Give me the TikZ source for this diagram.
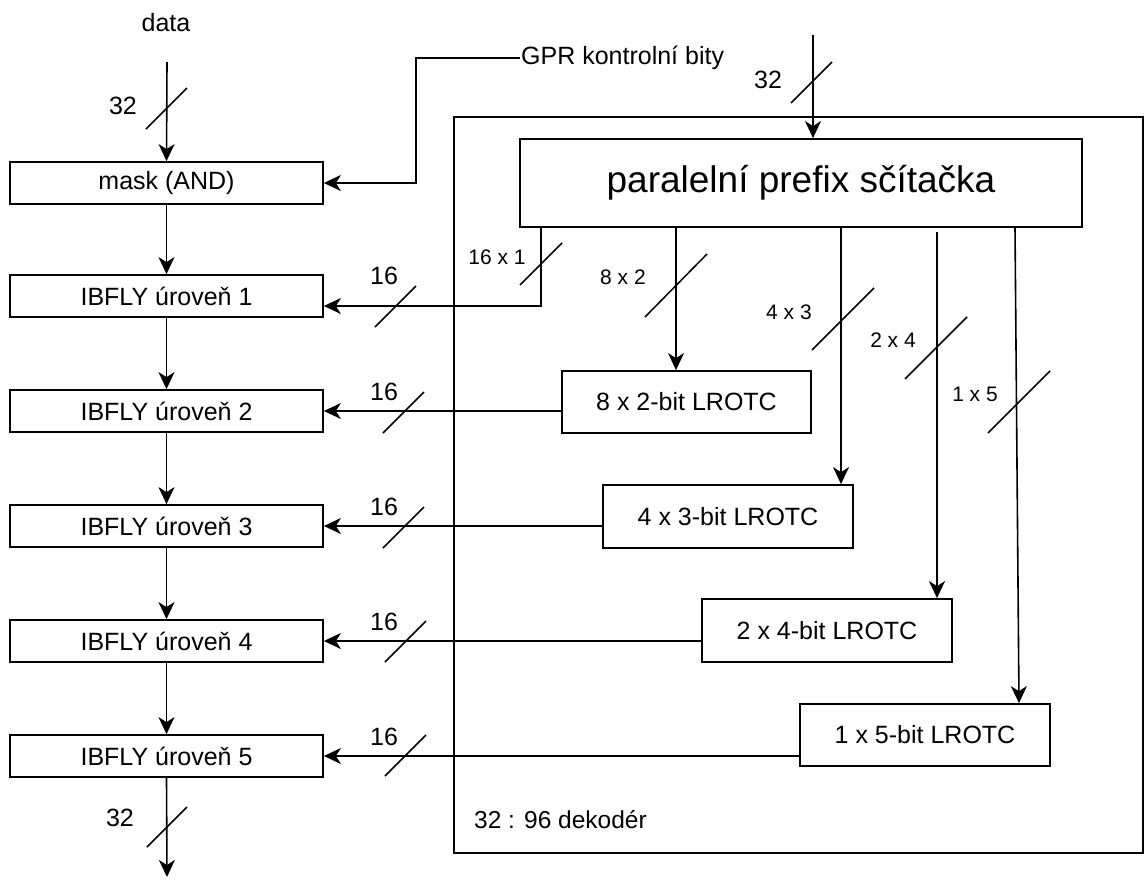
\documentclass[tikz,border=0pt]{standalone}
\usepackage{fontspec}
\setmainfont{Liberation Sans}
\usetikzlibrary{arrows.meta}
\tikzset{
  blk/.style={draw, line width=1.8pt, inner sep=0pt, font=\fontsize{25}{29}\selectfont},
  conn/.style={line width=1.6pt, -{Stealth[length=17pt,width=16pt,inset=5pt]}},
  wire/.style={line width=1.6pt},
  tick/.style={line width=1.5pt},
  lab/.style={inner sep=0pt, font=\fontsize{25}{29}\selectfont},
  slab/.style={inner sep=0pt, font=\fontsize{21}{25}\selectfont},
}
\begin{document}
\begin{tikzpicture}[x=1pt,y=-1pt]
\useasboundingbox (0,0) rectangle (1147,879);
% decoder frame
\node[blk, minimum width=689pt, minimum height=736pt] (dec) at (798.5,485) {};
\node[lab, anchor=west, font=\fontsize{24.5}{28}\selectfont] (declab) at (474,820) {32 : 96 dekodér};
% left chain
\node[blk, minimum width=313pt, minimum height=42pt] (mask) at (166.5,183) {mask (AND)};
\node[blk, minimum width=313pt, minimum height=42pt] (ib1) at (166.5,296) {IBFLY úroveň 1};
\node[blk, minimum width=313pt, minimum height=42pt] (ib2) at (166.5,411) {IBFLY úroveň 2};
\node[blk, minimum width=313pt, minimum height=42pt] (ib3) at (166.5,526) {IBFLY úroveň 3};
\node[blk, minimum width=313pt, minimum height=42pt] (ib4) at (166.5,641) {IBFLY úroveň 4};
\node[blk, minimum width=313pt, minimum height=42pt] (ib5) at (166.5,756) {IBFLY úroveň 5};
% adder and LROTC blocks
\node[blk, minimum width=562pt, minimum height=88pt, font=\fontsize{37}{43}\selectfont] (ad) at (801,183) {paralelní prefix sčítačka};
\node[blk, minimum width=249pt, minimum height=62pt] (l2) at (686.5,402) {8 x 2-bit LROTC};
\node[blk, minimum width=250pt, minimum height=63pt] (l3) at (728,516.5) {4 x 3-bit LROTC};
\node[blk, minimum width=250pt, minimum height=63pt] (l4) at (827,630.5) {2 x 4-bit LROTC};
\node[blk, minimum width=250pt, minimum height=62pt] (l5) at (925,735) {1 x 5-bit LROTC};
% inputs / outputs
\node[lab] (data) at (166,23) {data};
\coordinate (din) at (167,62);
\coordinate (dout) at (167,877);
\coordinate (tin) at (813,35);
\node[lab, anchor=west, inner sep=1pt] (gpr) at (520,58) {GPR kontrolní bity};
% left chain arrows
\draw[conn] (din) -- (mask.north);
\draw[conn] (mask.south) -- (ib1.north);
\draw[conn] (ib1.south) -- (ib2.north);
\draw[conn] (ib2.south) -- (ib3.north);
\draw[conn] (ib3.south) -- (ib4.north);
\draw[conn] (ib4.south) -- (ib5.north);
\draw[conn] (ib5.south) -- (dout);
\node[lab] (n32a) at (123,106) {32};
\draw[tick] (146,129) -- (187,88);
\node[lab] (n32b) at (120,818) {32};
\draw[tick] (147,847) -- (187,807);
% GPR control
\draw[conn] (gpr.west) -- (416,58) |- (mask.east);
% top input
\draw[conn] (tin) -- (tin |- ad.north);
\node[lab] (n32c) at (768,80) {32};
\draw[tick] (791,103) -- (832,62);
% 16 x 1
\draw[conn] (ad.south -| 541,0) -- (541,306) -- (ib1.east |- 0,306);
\node[slab] (s1) at (497,257) {16 x 1};
\draw[tick] (520,285) -- (562,243);
\node[lab] (b1) at (384,276) {16};
\draw[tick] (375,327) -- (416,286);
% 8 x 2
\draw[conn] (ad.south -| 676,0) -- (l2.north -| 676,0);
\node[slab] (s2) at (623,277) {8 x 2};
\draw[tick] (645,317) -- (707,254);
\draw[conn] (l2.west |- ib2.east) -- (ib2.east);
\node[lab] (b2) at (384,392) {16};
\draw[tick] (383,433) -- (424,392);
% 4 x 3
\draw[conn] (ad.south -| 841,0) -- (l3.north -| 841,0);
\node[slab] (s3) at (789,312) {4 x 3};
\draw[tick] (812,350) -- (874,288);
\draw[conn] (l3.west |- ib3.east) -- (ib3.east);
\node[lab] (b3) at (384,507) {16};
\draw[tick] (383,548) -- (424,507);
% 2 x 4
\coordinate (t4) at (937,232);
\draw[conn] (t4) -- (l4.north -| t4);
\node[slab] (s4) at (893,340) {2 x 4};
\draw[tick] (905,379) -- (967,317);
\draw[conn] (l4.west |- ib4.east) -- (ib4.east);
\node[lab] (b4) at (384,622) {16};
\draw[tick] (385,662) -- (426,621);
% 1 x 5
\draw[conn] (ad.south -| 1015,0) -- (l5.north -| 1019,0);
\node[slab] (s5) at (975,394) {1 x 5};
\draw[tick] (988,433) -- (1050,371);
\draw[conn] (l5.west |- ib5.east) -- (ib5.east);
\node[lab] (b5) at (384,737) {16};
\draw[tick] (385,776) -- (426,735);
\end{tikzpicture}
\end{document}
